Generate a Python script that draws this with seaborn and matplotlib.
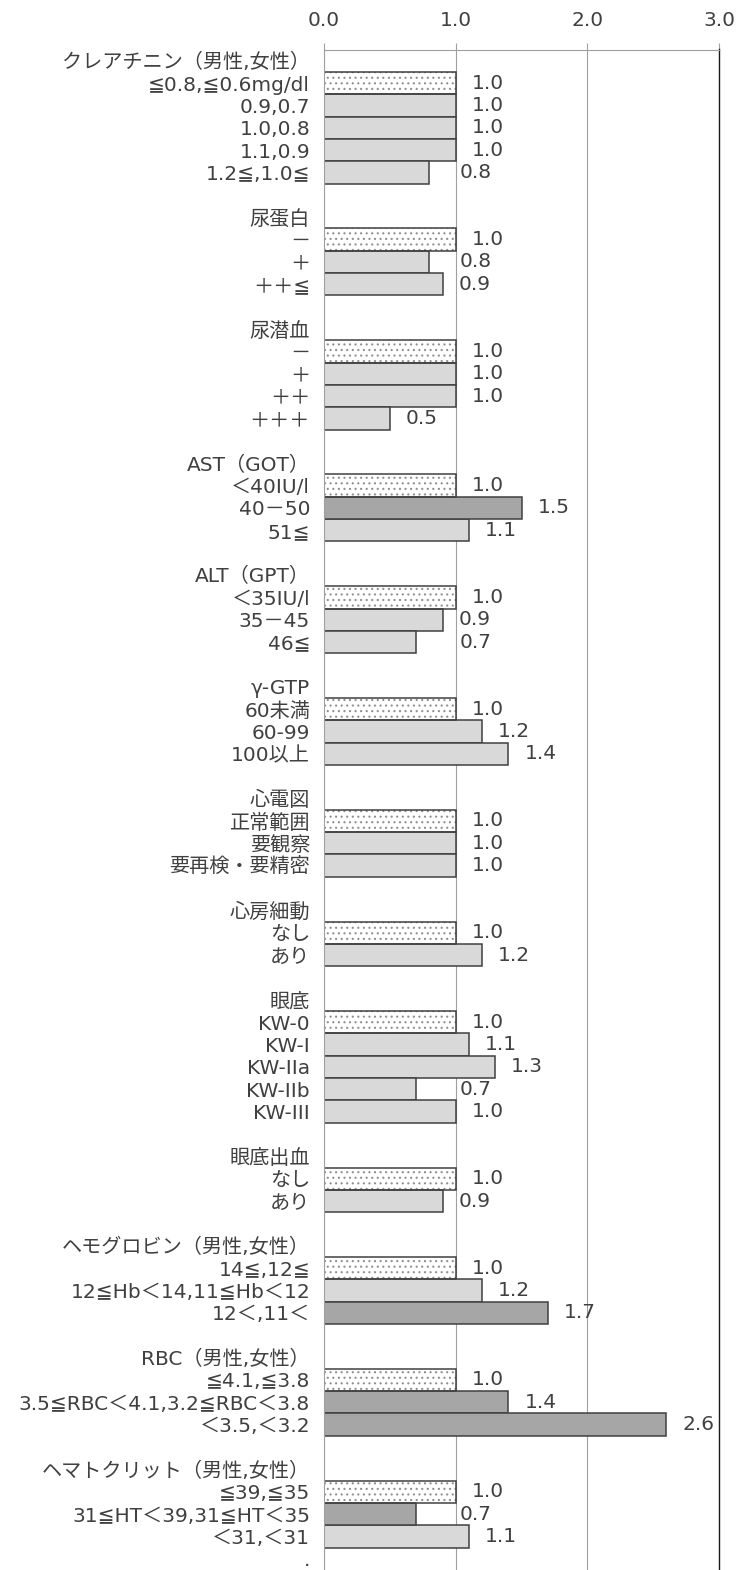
import numpy as np
import pandas as pd
import matplotlib
matplotlib.use("Agg")
import matplotlib.pyplot as plt
from matplotlib.patches import Rectangle
from matplotlib.colors import to_hex
import seaborn as sns

# --- data ---
group_names = [
    "クレアチニン（男性,女性）", "尿蛋白", "尿潜血", "AST（GOT）", "ALT（GPT）",
    "γ-GTP", "心電図", "心房細動", "眼底", "眼底出血",
    "ヘモグロビン（男性,女性）", "RBC（男性,女性）", "ヘマトクリット（男性,女性）",
]
level_labels = [
    ["≦0.8,≦0.6mg/dl", "0.9,0.7", "1.0,0.8", "1.1,0.9", "1.2≦,1.0≦"],
    ["－", "＋", "＋＋≦"],
    ["－", "＋", "＋＋", "＋＋＋"],
    ["＜40IU/l", "40－50", "51≦"],
    ["＜35IU/l", "35－45", "46≦"],
    ["60未満", "60-99", "100以上"],
    ["正常範囲", "要観察", "要再検・要精密"],
    ["なし", "あり"],
    ["KW-0", "KW-I", "KW-IIa", "KW-IIb", "KW-III"],
    ["なし", "あり"],
    ["14≦,12≦", "12≦Hb＜14,11≦Hb＜12", "12＜,11＜"],
    ["≦4.1,≦3.8", "3.5≦RBC＜4.1,3.2≦RBC＜3.8", "＜3.5,＜3.2"],
    ["≦39,≦35", "31≦HT＜39,31≦HT＜35", "＜31,＜31"],
]
odds_values = [
    [1.0, 1.0, 1.0, 1.0, 0.8],
    [1.0, 0.8, 0.9],
    [1.0, 1.0, 1.0, 0.5],
    [1.0, 1.5, 1.1],
    [1.0, 0.9, 0.7],
    [1.0, 1.2, 1.4],
    [1.0, 1.0, 1.0],
    [1.0, 1.2],
    [1.0, 1.1, 1.3, 0.7, 1.0],
    [1.0, 0.9],
    [1.0, 1.2, 1.7],
    [1.0, 1.4, 2.6],
    [1.0, 0.7, 1.1],
]
# ref = reference category, ns = not significant, sig = significant
level_kind = [
    ["ref", "ns", "ns", "ns", "ns"],
    ["ref", "ns", "ns"],
    ["ref", "ns", "ns", "ns"],
    ["ref", "sig", "ns"],
    ["ref", "ns", "ns"],
    ["ref", "ns", "ns"],
    ["ref", "ns", "ns"],
    ["ref", "ns"],
    ["ref", "ns", "ns", "ns", "ns"],
    ["ref", "ns"],
    ["ref", "ns", "sig"],
    ["ref", "sig", "sig"],
    ["ref", "sig", "ns"],
]
trailing_label = "."
x_ticks = [0.0, 1.0, 2.0, 3.0]

# --- one row per category line: header, levels, blank separator ---
rows = []
for g, (name, labs, vals, kinds) in enumerate(zip(group_names, level_labels, odds_values, level_kind)):
    rows.append({"row": f"r{len(rows)}", "label": name, "value": np.nan, "kind": None})
    for lab, v, k in zip(labs, vals, kinds):
        rows.append({"row": f"r{len(rows)}", "label": lab, "value": v, "kind": k})
    if g < len(group_names) - 1:
        rows.append({"row": f"r{len(rows)}", "label": "", "value": np.nan, "kind": None})
rows.append({"row": f"r{len(rows)}", "label": trailing_label, "value": np.nan, "kind": None})
table = pd.DataFrame(rows)
bars = table.dropna(subset=["value"])

palette = {"ref": "#ffffff", "ns": "#d9d9d9", "sig": "#a6a6a6"}
text_color = "#404040"
grid_color = "#a0a0a0"

sns.set_theme(style="white")
plt.rcParams["font.family"] = ["DejaVu Sans", "Noto Sans CJK JP"]
plt.rcParams["hatch.linewidth"] = 0.8

W, H = 740, 1570
top_px, row_px = 49.5, 22.38
fig = plt.figure(figsize=(W / 100, H / 100), dpi=100)
ax = fig.add_axes([324 / W, 0, 395 / W, (H - top_px) / H])

sns.barplot(data=bars, x="value", y="row", hue="kind", order=list(table["row"]),
            hue_order=["ref", "ns", "sig"], palette=palette, dodge=False, width=1.0,
            orient="h", errorbar=None, edgecolor=text_color, linewidth=1.1,
            legend=False, ax=ax)

# dotted pattern for the reference bars
ref_patches = [p for p in ax.patches if to_hex(p.get_facecolor()) == "#ffffff"]
for p in ref_patches:
    p.set_hatch("...")
    p.set_edgecolor("#909090")
    p.set_linewidth(0)
    ax.add_patch(Rectangle(p.get_xy(), p.get_width(), p.get_height(), fill=False,
                           ec=text_color, lw=1.1, zorder=p.get_zorder() + 0.1))

# value labels
px_per_unit = 395 / 3
gap = 16 / px_per_unit
lab_w = 32 / px_per_unit
for pos, (lab, v) in enumerate(zip(table["label"], table["value"])):
    if np.isnan(v):
        continue
    x = v + gap
    if x < 1.0 < x + lab_w:
        x = 1.0 + 4 / px_per_unit
    ax.text(x, pos, f"{v:.1f}", ha="left", va="center", fontsize=14.5, color=text_color)

# axes
n_vis = (H - top_px) / row_px
ax.set_ylim(-0.5 + n_vis, -0.5)
ax.set_xlim(0, 3)
ax.set_yticks(range(len(table)))
ax.set_yticklabels(table["label"])
ax.set_yticks(np.arange(-0.5, len(table) + 0.5, 1), minor=True)
ax.set_xlabel("")
ax.set_ylabel("")
ax.xaxis.tick_top()
ax.set_xticks(x_ticks)
ax.set_xticklabels([f"{t:.1f}" for t in x_ticks])

ax.tick_params(axis="y", which="major", length=0, pad=10, labelsize=14.5, labelcolor=text_color)
ax.tick_params(axis="y", which="minor", length=5.8, width=0.8, color=grid_color, direction="out")
ax.tick_params(axis="x", which="major", top=True, bottom=False, length=5, width=0.8,
               color=grid_color, pad=9, labelsize=14.5, labelcolor=text_color)

ax.grid(axis="x", color=grid_color, lw=0.8)
ax.set_axisbelow(True)
for side in ["left", "top"]:
    ax.spines[side].set_color(grid_color)
    ax.spines[side].set_linewidth(0.8)
ax.spines["right"].set_color("#1a1a1a")
ax.spines["right"].set_linewidth(1.0)
ax.spines["bottom"].set_visible(False)

fig.savefig("out.png", dpi=100)
